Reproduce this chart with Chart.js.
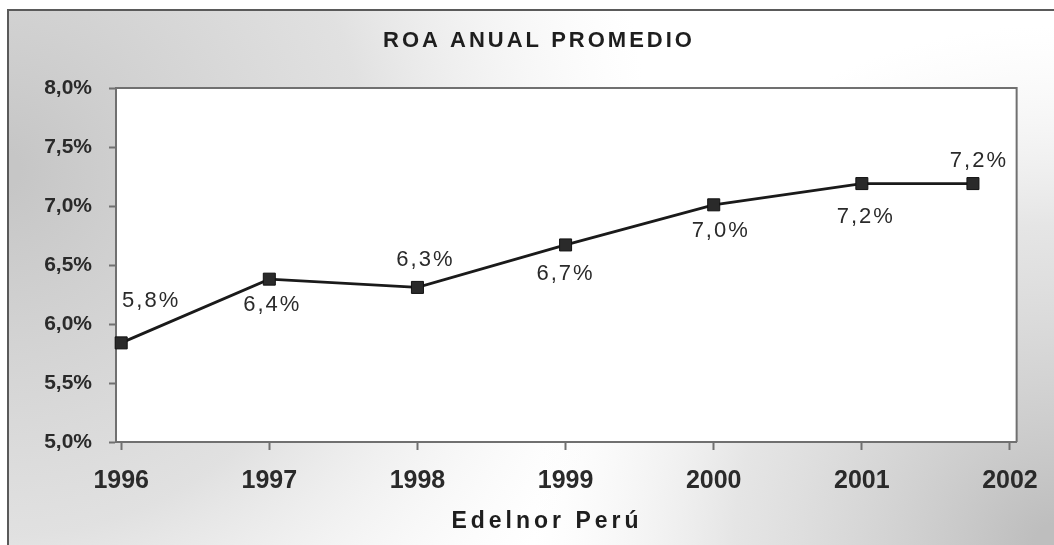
<!DOCTYPE html>
<html>
<head>
<meta charset="utf-8">
<script src="https://cdn.jsdelivr.net/npm/chart.js@4.4.1/dist/chart.umd.min.js"></script>
<style>
  html, body { margin: 0; padding: 0; background: #fff; }
  #wrap { position: relative; width: 1054px; height: 545px; }
</style>
</head>
<body>
<div id="wrap"><canvas id="roaChart"></canvas></div>
<script>
// ROA anual promedio - Edelnor Perú
const years = [1996, 1997, 1998, 1999, 2000, 2001, 2002];
// where each point sits on the year axis (last one is drawn short of 2002 in the original)
const pointPos = [1996, 1997, 1998, 1999, 2000, 2001, 2001.75];
const roaValues = [5.84, 6.38, 6.31, 6.67, 7.01, 7.19, 7.19];
const yTicks = [5.0, 5.5, 6.0, 6.5, 7.0, 7.5, 8.0];

const chartTitle = 'ROA ANUAL PROMEDIO';
const xTitle = 'Edelnor Perú';
const FONT = '"Liberation Sans", Arial, sans-serif';

function pct(v) {
    return v.toFixed(1).replace('.', ',') + '%';
}

// label offsets (dx, dy) from each point, like the original layout
const labelOffsets = [[30, -42], [3, 26], [8, -27], [0, 29], [7, 26], [4, 33], [6, -23]];

const backdrop = {
    id: 'backdrop',
    beforeDraw(chart) {
        const ctx = chart.ctx;
        const w = chart.width, h = chart.height;
        const a = chart.chartArea;
        ctx.save();
        ctx.fillStyle = '#fff';
        ctx.fillRect(0, 0, w, h);
        ctx.beginPath();
        ctx.rect(8, 10, w - 8, h - 10);
        ctx.clip();
        let g = ctx.createRadialGradient(0, 170, 20, 0, 170, 650);
        g.addColorStop(0, 'rgba(198,198,198,1)');
        g.addColorStop(0.55, 'rgba(212,212,212,0.7)');
        g.addColorStop(1, 'rgba(235,235,235,0)');
        ctx.fillStyle = g;
        ctx.fillRect(0, 0, w, h);
        g = ctx.createRadialGradient(w, h, 20, w, h, 520);
        g.addColorStop(0, 'rgba(190,190,190,1)');
        g.addColorStop(0.6, 'rgba(212,212,212,0.6)');
        g.addColorStop(1, 'rgba(235,235,235,0)');
        ctx.fillStyle = g;
        ctx.fillRect(0, 0, w, h);
        ctx.restore();

        // outer frame
        ctx.save();
        ctx.strokeStyle = '#5a5a5a';
        ctx.lineWidth = 2;
        ctx.beginPath();
        ctx.moveTo(w, 10);
        ctx.lineTo(8, 10);
        ctx.lineTo(8, h);
        ctx.stroke();
        ctx.restore();

        // plot area
        ctx.save();
        ctx.fillStyle = '#fff';
        ctx.fillRect(a.left, a.top, a.right - a.left, a.bottom - a.top);
        ctx.restore();
    },
    beforeDatasetsDraw(chart) {
        const ctx = chart.ctx;
        const a = chart.chartArea;
        ctx.save();
        ctx.strokeStyle = '#707070';
        ctx.lineWidth = 2;
        ctx.beginPath();
        ctx.moveTo(a.left, a.top);
        ctx.lineTo(a.right, a.top);
        ctx.lineTo(a.right, a.bottom);
        ctx.stroke();
        ctx.restore();
    },
    afterDatasetsDraw(chart) {
        const ctx = chart.ctx;
        const meta = chart.getDatasetMeta(0);
        ctx.save();
        ctx.fillStyle = '#2a2a2a';
        ctx.textAlign = 'center';
        ctx.textBaseline = 'middle';
        ctx.font = '22px ' + FONT;
        ctx.letterSpacing = '2px';
        meta.data.forEach((pt, i) => {
            const off = labelOffsets[i];
            ctx.fillText(pct(roaValues[i]), pt.x + off[0], pt.y + off[1]);
        });
        ctx.restore();
    },
    afterDraw(chart) {
        const ctx = chart.ctx;
        ctx.save();
        ctx.fillStyle = '#1e1e1e';
        ctx.textAlign = 'center';
        ctx.textBaseline = 'middle';
        ctx.font = 'bold 22px ' + FONT;
        ctx.letterSpacing = '3px';
        ctx.fillText(chartTitle, 539, 41);
        ctx.font = 'bold 23px ' + FONT;
        ctx.letterSpacing = '4px';
        ctx.fillText(xTitle, 547, 522);
        ctx.restore();
    }
};

new Chart(document.getElementById('roaChart'), {
    type: 'line',
    data: {
        datasets: [{
            label: chartTitle,
            data: roaValues.map((v, i) => ({ x: pointPos[i], y: v })),
            borderColor: '#1a1a1a',
            borderWidth: 2.8,
            pointStyle: 'rect',
            pointRadius: 8.5,
            pointBackgroundColor: '#2a2a2a',
            pointBorderColor: '#111',
            pointBorderWidth: 1,
            tension: 0,
            clip: false
        }]
    },
    options: {
        responsive: true,
        maintainAspectRatio: false,
        animation: false,
        layout: { padding: { top: 88, right: 30, left: 0, bottom: 0 } },
        plugins: {
            legend: { display: false },
            tooltip: { enabled: false },
            title: { display: false }
        },
        scales: {
            x: {
                type: 'linear',
                min: 1995.965,
                max: 2002.045,
                afterFit(scale) { scale.height = 103; },
                afterBuildTicks(scale) {
                    scale.ticks = years.map(v => ({ value: v }));
                },
                ticks: {
                    stepSize: 1,
                    includeBounds: false,
                    padding: 16,
                    color: '#2a2a2a',
                    font: { family: FONT, size: 25, weight: 'bold' },
                    callback: v => String(v)
                },
                grid: {
                    display: true,
                    drawOnChartArea: false,
                    tickLength: 8,
                    tickWidth: 2,
                    tickColor: '#707070'
                },
                border: { display: true, color: '#707070', width: 2 }
            },
            y: {
                min: 5,
                max: 8,
                afterFit(scale) { scale.width = 116; },
                afterBuildTicks(scale) {
                    scale.ticks = yTicks.map(v => ({ value: v }));
                },
                ticks: {
                    padding: 17,
                    color: '#2a2a2a',
                    font: { family: FONT, size: 21, weight: 'bold' },
                    callback: v => pct(v)
                },
                grid: {
                    display: true,
                    drawOnChartArea: false,
                    tickLength: 7,
                    tickWidth: 2,
                    tickColor: '#707070'
                },
                border: { display: true, color: '#707070', width: 2 }
            }
        }
    },
    plugins: [backdrop]
});
</script>
</body>
</html>
